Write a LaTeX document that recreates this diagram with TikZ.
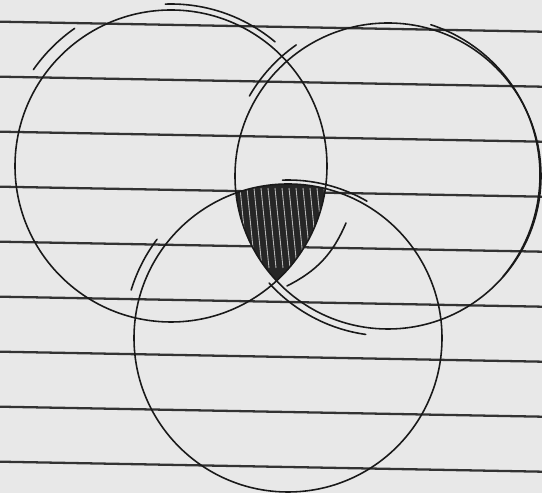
\documentclass[tikz,border=0pt]{standalone}
\usetikzlibrary{calc}

\begin{document}
\begin{tikzpicture}[
    x=0.02cm, y=0.02cm,
    rule/.style={black!80, line width=1.3pt},
    pen/.style={black!90, line width=0.9pt, line cap=round},
    hatch/.style={gray!55, line width=0.5pt}]
  \fill[black!9] (0,0) rectangle (542,493);
  \useasboundingbox (0,0) rectangle (542,493);
  % ruled paper
  \foreach \k in {0,...,8}
    \draw[rule] (0,{471.3-55*\k}) -- (542,{461.3-55*\k});
  \coordinate (A) at (171,327);
  \coordinate (B) at (388,317);
  \coordinate (C) at (288,155);
  % shaded part, inside all three
  \begin{scope}
    \clip (A) circle[radius=156];
    \clip (B) circle[radius=153];
    \clip (C) circle[radius=154];
    \fill[black!85] (220,190) rectangle (340,330);
    \foreach \x in {240,247,...,330}
      \draw[hatch] (\x,305) -- (\x+8,225);
  \end{scope}
  \draw[pen] (A) circle[radius=156];
  \draw[pen] (B) circle[radius=153];
  \draw[pen] (C) circle[radius=154];
  % second strokes of the pen
  \draw[pen] (A) ++(92:162) arc[start angle=92, end angle=50, radius=162];
  \draw[pen] (A) ++(125:168) arc[start angle=125, end angle=145, radius=168];
  \coordinate (B2) at (382,318);
  \draw[pen] (B2) ++(72:158) arc[start angle=72, end angle=-40, radius=158];
  \draw[pen] (B) ++(125:160) arc[start angle=125, end angle=150, radius=160];
  \draw[pen] (B) ++(222:160) arc[start angle=222, end angle=262, radius=160];
  \draw[pen] (C) ++(92:158) arc[start angle=92, end angle=60, radius=158];
  \draw[pen] (C) ++(143:164) arc[start angle=143, end angle=163, radius=164];
  \coordinate (s1) at (346,270);
  \coordinate (s2) at (287,207);
  \draw[pen] (s1) to[bend left=20] (s2);
\end{tikzpicture}
\end{document}
